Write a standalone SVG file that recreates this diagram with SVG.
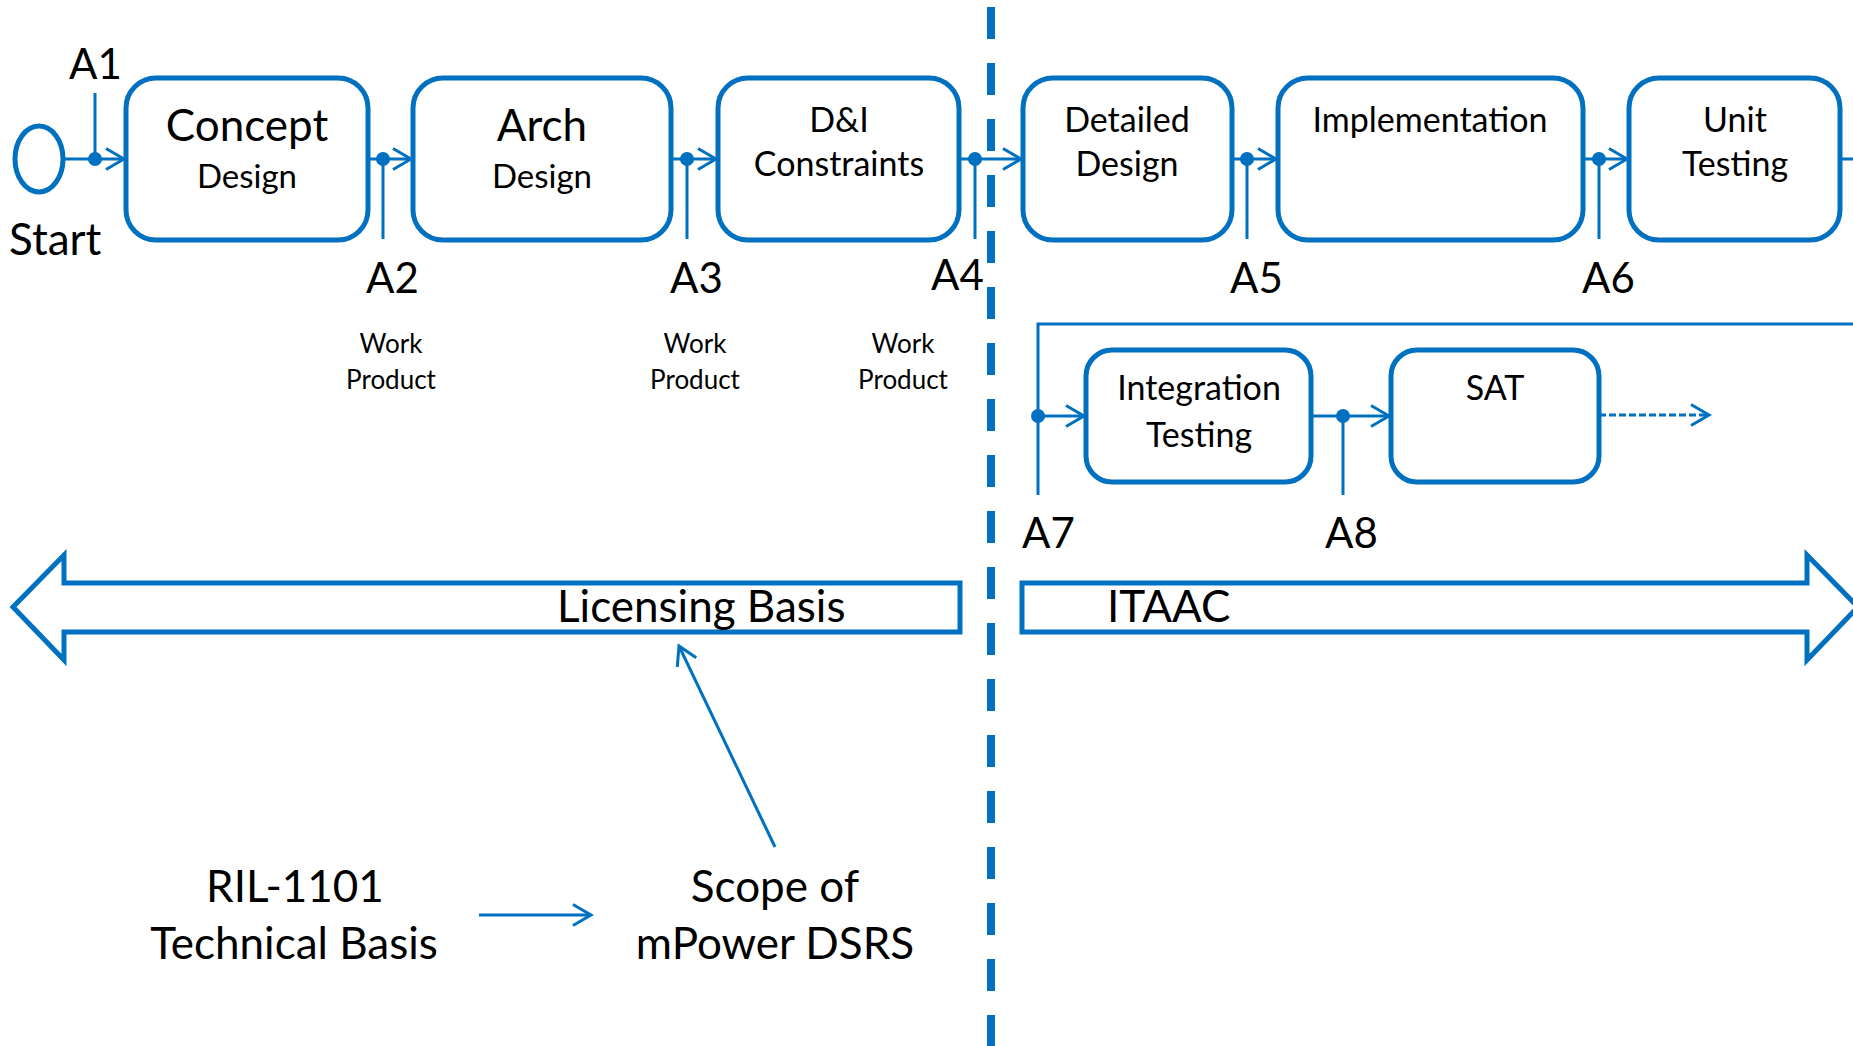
<svg xmlns="http://www.w3.org/2000/svg" width="1853" height="1046" viewBox="0 0 1853 1046">
<style>
.box{fill:#fff;stroke:#0070C0;stroke-width:5}
.ln{fill:none;stroke:#0070C0;stroke-width:3}
.dot{fill:#0070C0}
.t{font-family:Lato,"Liberation Sans",sans-serif;fill:#000}
.big{font-size:44px}
.lab{font-size:42px}
.mid{font-size:34px}
.des{font-size:33px}
.sm{font-size:26px}
.c{text-anchor:middle}
.bigarrow{fill:#fff;stroke:#0070C0;stroke-width:5}
</style>
<defs>
<marker id="arr" viewBox="0 0 24 24" refX="21" refY="12" markerWidth="24" markerHeight="24" markerUnits="userSpaceOnUse" orient="auto" overflow="visible">
<path d="M3,1.5 L21,12 L3,22.5" fill="none" stroke="#0070C0" stroke-width="3"/>
</marker>
</defs>
<rect width="1853" height="1046" fill="#fff"/>
<g id="divider">
<line x1="991" y1="7" x2="991" y2="1046" stroke="#0070C0" stroke-width="8" stroke-dasharray="32 24"/>
</g>
<g id="licensing-basis">
<polygon class="bigarrow" points="13,607 64,555 64,583 960,583 960,632 64,632 64,660"/>
<text class="t big" x="557" y="622">Licensing Basis</text>
</g>
<g id="itaac">
<polygon class="bigarrow" points="1022,583 1807,583 1807,555 1858,607 1807,660 1807,632 1022,632"/>
<text class="t big" x="1107" y="622">ITAAC</text>
</g>
<g id="connectors">
<line class="ln" x1="63" y1="159" x2="124" y2="159" marker-end="url(#arr)"/>
<line class="ln" x1="368" y1="159" x2="411" y2="159" marker-end="url(#arr)"/>
<line class="ln" x1="671" y1="159" x2="716" y2="159" marker-end="url(#arr)"/>
<line class="ln" x1="959" y1="159" x2="1021" y2="159" marker-end="url(#arr)"/>
<line class="ln" x1="1232" y1="159" x2="1276" y2="159" marker-end="url(#arr)"/>
<line class="ln" x1="1583" y1="159" x2="1627" y2="159" marker-end="url(#arr)"/>
<line class="ln" x1="1840" y1="159" x2="1853" y2="159"/>
<line class="ln" x1="95" y1="93" x2="95" y2="159"/>
<line class="ln" x1="383" y1="159" x2="383" y2="239"/>
<line class="ln" x1="687" y1="159" x2="687" y2="239"/>
<line class="ln" x1="975" y1="159" x2="975" y2="239"/>
<line class="ln" x1="1247" y1="159" x2="1247" y2="239"/>
<line class="ln" x1="1599" y1="159" x2="1599" y2="239"/>
<polyline class="ln" points="1853,324 1038,324 1038,495"/>
<line class="ln" x1="1038" y1="416" x2="1084" y2="416" marker-end="url(#arr)"/>
<line class="ln" x1="1311" y1="416" x2="1389" y2="416" marker-end="url(#arr)"/>
<line class="ln" x1="1343" y1="416" x2="1343" y2="495"/>
<line class="ln" x1="1599" y1="415" x2="1709" y2="415" stroke-dasharray="7 3" marker-end="url(#arr)"/>
<line class="ln" x1="775" y1="847" x2="679" y2="646" marker-end="url(#arr)"/>
<line class="ln" x1="479" y1="915" x2="591" y2="915" marker-end="url(#arr)"/>
<circle class="dot" cx="95" cy="159" r="7"/>
<circle class="dot" cx="383" cy="159" r="7"/>
<circle class="dot" cx="687" cy="159" r="7"/>
<circle class="dot" cx="975" cy="159" r="7"/>
<circle class="dot" cx="1247" cy="159" r="7"/>
<circle class="dot" cx="1599" cy="159" r="7"/>
<circle class="dot" cx="1038" cy="416" r="7"/>
<circle class="dot" cx="1343" cy="416" r="7"/>
</g>
<g id="start">
<ellipse cx="39" cy="159" rx="24" ry="33" fill="#fff" stroke="#0070C0" stroke-width="5"/>
<text class="t big" x="9" y="255">Start</text>
</g>
<g id="concept-design">
<rect class="box" x="126" y="78" width="242" height="162" rx="30"/>
<text class="t big c" x="247" y="141">Concept</text>
<text class="t des c" x="247" y="188">Design</text>
</g>
<g id="arch-design">
<rect class="box" x="413" y="78" width="258" height="162" rx="30"/>
<text class="t big c" x="542" y="141">Arch</text>
<text class="t des c" x="542" y="188">Design</text>
</g>
<g id="di-constraints">
<rect class="box" x="718" y="78" width="241" height="162" rx="30"/>
<text class="t mid c" x="839" y="132">D&amp;I</text>
<text class="t mid c" x="839" y="176">Constraints</text>
</g>
<g id="detailed-design">
<rect class="box" x="1023" y="78" width="209" height="162" rx="30"/>
<text class="t mid c" x="1127" y="132">Detailed</text>
<text class="t mid c" x="1127" y="176">Design</text>
</g>
<g id="implementation">
<rect class="box" x="1278" y="78" width="305" height="162" rx="30"/>
<text class="t mid c" x="1430" y="132">Implementation</text>
</g>
<g id="unit-testing">
<rect class="box" x="1629" y="78" width="211" height="162" rx="30"/>
<text class="t mid c" x="1735" y="132">Unit</text>
<text class="t mid c" x="1735" y="176">Testing</text>
</g>
<g id="integration-testing">
<rect class="box" x="1086" y="350" width="225" height="132" rx="26"/>
<text class="t mid c" x="1199" y="400">Integration</text>
<text class="t mid c" x="1199" y="447">Testing</text>
</g>
<g id="sat">
<rect class="box" x="1391" y="350" width="208" height="132" rx="26"/>
<text class="t mid c" x="1495" y="400">SAT</text>
</g>
<g id="labels">
<text class="t lab" x="69" y="79">A1</text>
<text class="t lab" x="366" y="293">A2</text>
<text class="t lab" x="670" y="293">A3</text>
<text class="t lab" x="931" y="290">A4</text>
<text class="t lab" x="1230" y="293">A5</text>
<text class="t lab" x="1582" y="293">A6</text>
<text class="t lab" x="1022" y="548">A7</text>
<text class="t lab" x="1325" y="548">A8</text>
<text class="t sm c" x="391" y="353">Work</text>
<text class="t sm c" x="391" y="389">Product</text>
<text class="t sm c" x="695" y="353">Work</text>
<text class="t sm c" x="695" y="389">Product</text>
<text class="t sm c" x="903" y="353">Work</text>
<text class="t sm c" x="903" y="389">Product</text>
</g>
<g id="ril-1101">
<text class="t big c" x="295" y="902">RIL-1101</text>
<text class="t big c" x="294" y="959">Technical Basis</text>
</g>
<g id="scope">
<text class="t big c" x="775" y="902">Scope of</text>
<text class="t big c" x="775" y="959">mPower DSRS</text>
</g>
</svg>
